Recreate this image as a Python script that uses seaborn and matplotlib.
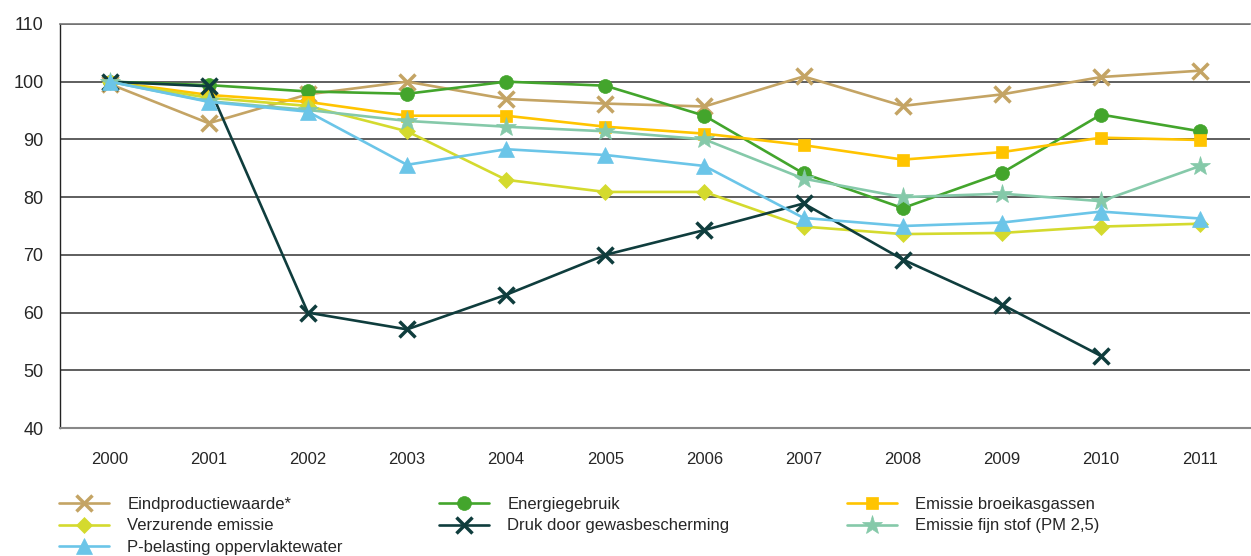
import numpy as np
import seaborn as sns
import matplotlib.pyplot as plt

years = ["2000", "2001", "2002", "2003", "2004", "2005", "2006", "2007", "2008", "2009", "2010", "2011"]

eindproductiewaarde = [99.6, 92.8, 97.8, 100.0, 97.0, 96.2, 95.7, 100.9, 95.8, 97.8, 100.8, 101.9]
energiegebruik = [100.0, 99.4, 98.3, 97.9, 100.0, 99.3, 94.1, 84.1, 78.1, 84.2, 94.3, 91.4]
broeikasgassen = [100.0, 97.7, 96.5, 94.1, 94.1, 92.2, 91.0, 89.0, 86.5, 87.8, 90.3, 89.9]
verzurende = [100.0, 97.2, 95.8, 91.4, 83.0, 80.9, 80.9, 74.9, 73.6, 73.8, 74.9, 75.4]
gewasbescherming = [100.0, 99.2, 60.0, 57.1, 63.1, 70.0, 74.3, 78.9, 69.2, 61.4, 52.5, np.nan]
fijn_stof = [100.0, 96.6, 95.1, 93.2, 92.2, 91.4, 90.0, 83.2, 80.0, 80.6, 79.3, 85.4]
p_belasting = [100.0, 96.5, 94.8, 85.6, 88.3, 87.3, 85.4, 76.4, 75.0, 75.6, 77.5, 76.3]

series = [
    ("Eindproductiewaarde*", eindproductiewaarde, "#C4A464", "x", 11),
    ("Energiegebruik", energiegebruik, "#43A52C", "o", 10),
    ("Emissie broeikasgassen", broeikasgassen, "#FFC400", "s", 9),
    ("Verzurende emissie", verzurende, "#D4DA2E", "D", 8),
    ("Druk door gewasbescherming", gewasbescherming, "#0F3D3D", "x", 11),
    ("Emissie fijn stof (PM 2,5)", fijn_stof, "#85C9A9", "*", 15),
    ("P-belasting oppervlaktewater", p_belasting, "#6BC5E8", "^", 11),
]

sns.set_style("white")
plt.rcParams["font.family"] = ["Liberation Sans", "DejaVu Sans"]

fig = plt.figure(figsize=(12.51, 5.56), dpi=100)
ax = fig.add_axes([0.048, 0.23, 0.951, 0.727])

x = np.arange(len(years))
handles = {}
for name, vals, color, marker, size in series:
    sns.lineplot(x=x, y=vals, ax=ax, color=color, marker=marker, markersize=size,
                 markeredgewidth=2.5 if marker == "x" else 0.5, markeredgecolor=color,
                 linewidth=1.9, label=name, legend=False)
    handles[name] = ax.lines[-1]

ax.set_xlim(-0.5, 11.5)
ax.set_ylim(40, 110)
ax.set_yticks(range(40, 111, 10))
ax.set_xticks(x)
ax.set_xticklabels(years)
ax.set_xticks(np.arange(0.5, 11.5, 1), minor=True)
ax.tick_params(axis="x", which="major", length=0, pad=17, labelsize=12)
ax.tick_params(axis="x", which="minor", direction="in", length=11, width=0.8, color="#555555")
ax.tick_params(axis="y", length=0, pad=12, labelsize=13)
ax.yaxis.grid(True, color="#333333", linewidth=1.1)
ax.set_axisbelow(True)
ax.spines["right"].set_visible(False)
ax.spines["top"].set_color("#777777")
ax.spines["top"].set_linewidth(1.2)
ax.spines["left"].set_color("#222222")
ax.spines["left"].set_linewidth(1.0)
ax.spines["bottom"].set_color("#888888")
ax.spines["bottom"].set_linewidth(1.5)
ax.set_xlabel("")
ax.set_ylabel("")

columns = [
    (["Eindproductiewaarde*", "Verzurende emissie", "P-belasting oppervlaktewater"], 0.047),
    (["Energiegebruik", "Druk door gewasbescherming"], 0.351),
    (["Emissie broeikasgassen", "Emissie fijn stof (PM 2,5)"], 0.677),
]
for names, xpos in columns:
    leg = fig.legend([handles[n] for n in names], names, loc="upper left",
                     bbox_to_anchor=(xpos, 0.106), frameon=False, fontsize=12,
                     handlelength=3.0, handletextpad=1.1, labelspacing=0.38, borderpad=0,
                     borderaxespad=0)

fig.savefig("out.png", dpi=100)
